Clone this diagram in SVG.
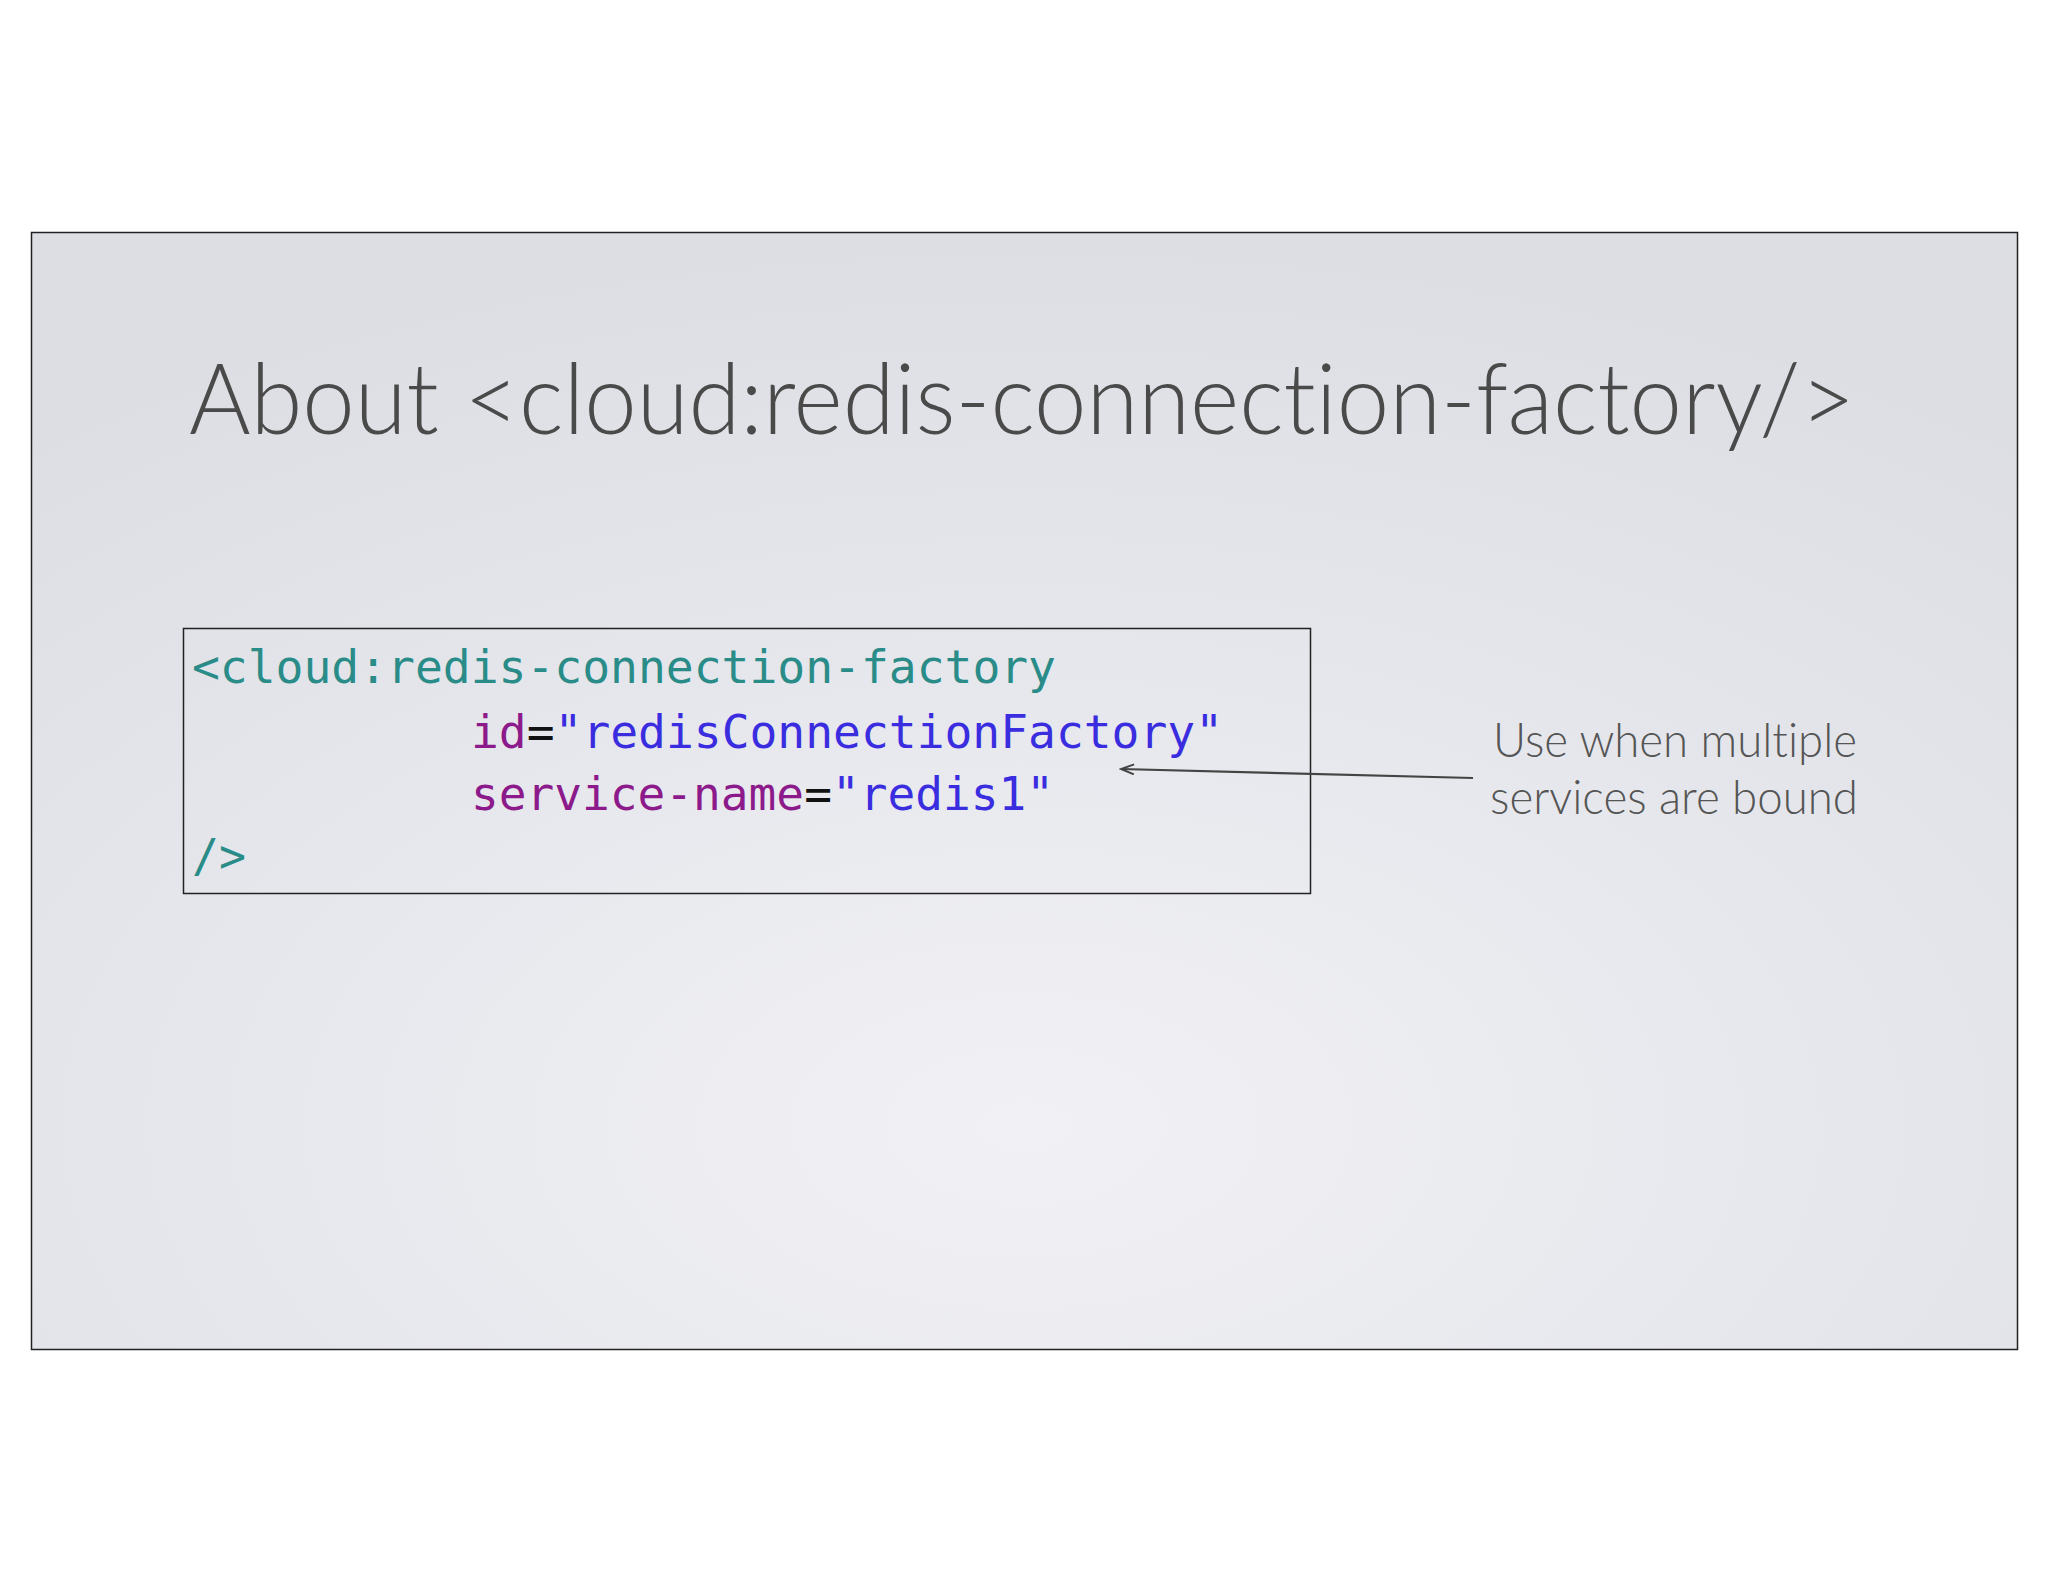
<svg xmlns="http://www.w3.org/2000/svg" width="2048" height="1582" viewBox="0 0 2048 1582">
<defs>
<radialGradient id="bg" cx="0.5" cy="0.8" r="0.8">
<stop offset="0" stop-color="#f1f1f5"/><stop offset="1" stop-color="#dcdee4"/>
</radialGradient>
<marker id="ah" markerWidth="16" markerHeight="12" refX="14" refY="6" orient="auto" markerUnits="userSpaceOnUse">
<path d="M1,1 L14,6 L1,11" fill="none" stroke="#444" stroke-width="2"/>
</marker>
<style>
text{font-variant-ligatures:none}
.code{font-family:"DejaVu Sans Mono","Liberation Mono",monospace;font-size:46px}
.t{fill:#2a8c88}.p{fill:#8c1a8a}.b{fill:#3a2de0}.k{fill:#111}
.note{font-family:"Lato","Open Sans",sans-serif;font-weight:300;font-size:48px;fill:#555}
</style>
</defs>
<rect width="2048" height="1582" fill="#fff"/>
<rect x="31.5" y="232.5" width="1986" height="1117" fill="url(#bg)" stroke="#222" stroke-width="1.5"/>
<g id="title"><text x="189" y="434" font-family="Lato, 'Open Sans', sans-serif" font-weight="300" font-size="98" fill="#4a4a4a" textLength="1666" lengthAdjust="spacingAndGlyphs">About &lt;cloud:redis-connection-factory/&gt;</text></g>
<g id="codebox">
<rect x="183.5" y="628.5" width="1127" height="265" fill="none" stroke="#222" stroke-width="1.5"/>
<text class="code t" x="192" y="683" textLength="864" lengthAdjust="spacingAndGlyphs">&lt;cloud:redis-connection-factory</text>
<text class="code" x="471" y="748" textLength="752" lengthAdjust="spacingAndGlyphs"><tspan class="p">id</tspan><tspan class="k">=</tspan><tspan class="b">"redisConnectionFactory"</tspan></text>
<text class="code" x="471" y="810" textLength="583" lengthAdjust="spacingAndGlyphs"><tspan class="p">service-name</tspan><tspan class="k">=</tspan><tspan class="b">"redis1"</tspan></text>
<text class="code t" x="192" y="872" textLength="54" lengthAdjust="spacingAndGlyphs">/&gt;</text>
</g>
<g id="note">
<text class="note" x="1493" y="757" textLength="364" lengthAdjust="spacingAndGlyphs">Use when multiple</text>
<text class="note" x="1490" y="814" textLength="368" lengthAdjust="spacingAndGlyphs">services are bound</text>
</g>
<g id="connectors">
<line x1="1473" y1="778" x2="1121" y2="769" stroke="#444" stroke-width="2.2" marker-end="url(#ah)"/>
</g>
</svg>
